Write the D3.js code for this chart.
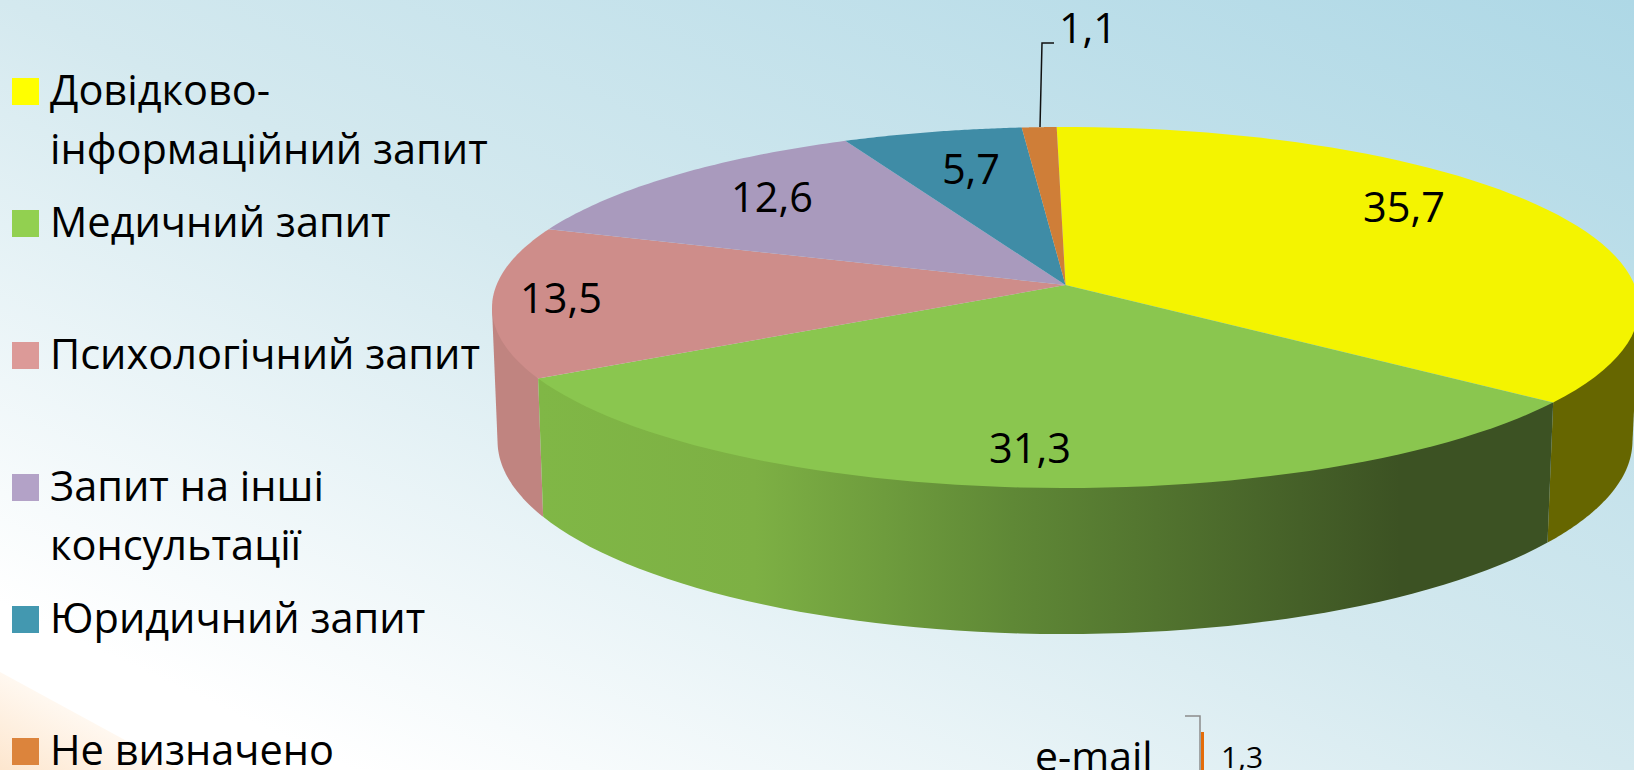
<!DOCTYPE html>
<html>
<head>
<meta charset="utf-8">
<script src="https://cdn.jsdelivr.net/npm/d3@7"></script>
<style>
  html, body { margin: 0; padding: 0; overflow: hidden; background: #fff; }
  svg { display: block; }
  text { font-family: "Open Sans", sans-serif; fill: #000; }
</style>
</head>
<body>
<script>
const categories = [
  ["Довідково-", "інформаційний запит"],
  ["Медичний запит"],
  ["Психологічний запит"],
  ["Запит на інші", "консультації"],
  ["Юридичний запит"],
  ["Не визначено"],
];
const values = [35.7, 31.3, 13.5, 12.6, 5.7, 1.1];
const valueLabels = ["35,7", "31,3", "13,5", "12,6", "5,7", "1,1"];
const topColors = ["#f4f400", "#8ac64f", "#ce8d8a", "#a99abd", "#3f8ca6", "#cf7e38"];
const sideColors = ["#666600", "url(#greenSide)", "#c08480", "#a99abd", "#3f8ca6", "#cf7e38"];
const legendColors = ["#ffff00", "#92d050", "#dc9a98", "#b3a2c7", "#4398b0", "#dc843c"];
const legendY = [78, 210, 342, 474, 606, 738];
const labelPos = [[1404, 222], [1030, 463], [561, 313], [772, 212], [971, 184], [1088, 43]];

const emailCategories = ["e-mail"];
const emailValues = [1.3];
const emailLabels = ["1,3"];

const width = 1634;
const height = 770;
const FONT_SIZE = 41.5;

const svg = d3.select("body").append("svg").attr("width", width).attr("height", height);
const defs = svg.append("defs");

const bg = defs.append("linearGradient").attr("id", "bg")
  .attr("gradientUnits", "userSpaceOnUse")
  .attr("x1", -233).attr("y1", 494).attr("x2", 297).attr("y2", -630);
bg.append("stop").attr("offset", 0).attr("stop-color", "#ffffff");
bg.append("stop").attr("offset", 0.44).attr("stop-color", "#d4e9ef");
bg.append("stop").attr("offset", 1).attr("stop-color", "#aed8e6");

const corner = defs.append("linearGradient").attr("id", "corner")
  .attr("gradientUnits", "userSpaceOnUse")
  .attr("x1", 40).attr("y1", 694).attr("x2", -1).attr("y2", 770);
corner.append("stop").attr("offset", 0).attr("stop-color", "#fff8f0");
corner.append("stop").attr("offset", 1).attr("stop-color", "#fde6ce");

const greenSide = defs.append("linearGradient").attr("id", "greenSide")
  .attr("gradientUnits", "userSpaceOnUse")
  .attr("x1", 540).attr("y1", 0).attr("x2", 1400).attr("y2", 0);
greenSide.append("stop").attr("offset", 0).attr("stop-color", "#80b746");
greenSide.append("stop").attr("offset", 0.25).attr("stop-color", "#7db044");
greenSide.append("stop").attr("offset", 0.55).attr("stop-color", "#5f8836");
greenSide.append("stop").attr("offset", 1).attr("stop-color", "#3c5223");

const line = d3.line();

svg.append("rect").attr("width", width).attr("height", height).attr("fill", "url(#bg)");
svg.append("path")
  .attr("d", line([[0, 672], [180, 770], [0, 770]]) + "Z")
  .attr("fill", "url(#corner)");

// perspective of the pie disc, fitted to the picture
const topDisc = { cx: 1065.5, cy: 285, a: 569, b: 177.7, k: 0.1247 };
const bottomDisc = { cx: 1065, cy: 417, a: 563, b: 190, k: 0.1247 };
const START = (-1 * Math.PI) / 180;

const project = (disc, angle) => {
  const u = Math.sin(angle);
  const v = -Math.cos(angle);
  const d = 1 - disc.k * v;
  return [disc.cx + (disc.a * u) / d, disc.cy + (disc.b * v) / d];
};

const arcs = d3.pie().sort(null).startAngle(START).endAngle(START + 2 * Math.PI)(values);

const sampleAngles = (a0, a1) => d3.range(0, 61).map((i) => a0 + ((a1 - a0) * i) / 60);

// side wall between the two widest points of the disc. The hull of a slice
// may spill over its seam, so the green front wall goes on last.
const sideFrom = (97 * Math.PI) / 180;
const sideTo = (263 * Math.PI) / 180;
const sideArcs = arcs
  .filter((d) => d.endAngle > sideFrom && d.startAngle < sideTo)
  .sort((p, q) => (p.index === 1) - (q.index === 1));
svg.append("g").selectAll("path")
  .data(sideArcs)
  .join("path")
  .attr("fill", (d) => sideColors[d.index])
  .attr("d", (d) => {
    const angles = sampleAngles(Math.max(d.startAngle, sideFrom), Math.min(d.endAngle, sideTo));
    const points = angles.flatMap((a) => [project(topDisc, a), project(bottomDisc, a)]);
    return line(d3.polygonHull(points)) + "Z";
  });

svg.append("g").selectAll("path")
  .data(arcs)
  .join("path")
  .attr("fill", (d) => topColors[d.index])
  .attr("d", (d) => {
    const rim = sampleAngles(d.startAngle, d.endAngle).map((a) => project(topDisc, a));
    return line([[topDisc.cx, topDisc.cy]].concat(rim)) + "Z";
  });

// leader of the smallest slice
svg.append("path")
  .attr("d", line([[1040, 127], [1042, 43], [1054, 43]]))
  .attr("fill", "none").attr("stroke", "#111").attr("stroke-width", 1.5);

svg.append("g").selectAll("text")
  .data(valueLabels)
  .join("text")
  .attr("x", (d, i) => labelPos[i][0])
  .attr("y", (d, i) => labelPos[i][1])
  .attr("text-anchor", "middle")
  .attr("font-size", FONT_SIZE)
  .text((d) => d);

// legend
const legend = svg.append("g").selectAll("g")
  .data(categories)
  .join("g");
legend.append("rect")
  .attr("x", 12).attr("y", (d, i) => legendY[i])
  .attr("width", 27).attr("height", 27)
  .attr("fill", (d, i) => legendColors[i]);
legend.selectAll("text")
  .data((d, i) => d.map((t, j) => ({ t, j, i })))
  .join("text")
  .attr("x", 50)
  .attr("y", (d) => legendY[d.i] + 27 + d.j * 59)
  .attr("font-size", FONT_SIZE)
  .text((d) => d.t);

// the next chart starts at the bottom edge, only its first bar shows
const xEmail = d3.scaleLinear().domain([0, 1.3]).range([1201, 1204]);
const yEmail = d3.scaleBand().domain(emailCategories).range([732, 800]);
svg.selectAll(".bar").data(emailValues).join("rect")
  .attr("class", "bar")
  .attr("x", xEmail(0)).attr("y", yEmail(emailCategories[0]))
  .attr("width", (d) => xEmail(d) - xEmail(0)).attr("height", yEmail.bandwidth())
  .attr("fill", "#e46c0a");
svg.append("path")
  .attr("d", line([[1185, 716], [1200, 716], [1200, 770]]))
  .attr("fill", "none").attr("stroke", "#8c8c8c").attr("stroke-width", 1.5);
svg.append("text").attr("x", 1035).attr("y", 771).attr("font-size", 41).text(emailCategories[0]);
svg.append("text").attr("x", 1221).attr("y", 768).attr("font-size", 30).text(emailLabels[0]);
</script>
</body>
</html>
